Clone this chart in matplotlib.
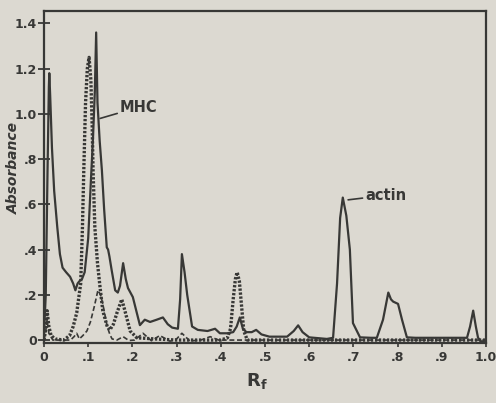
import matplotlib
matplotlib.use("Agg")
import matplotlib.pyplot as plt

# ---- data (Rf, absorbance) ----
solid_rf = [0.000, 0.004, 0.008, 0.011, 0.012, 0.014, 0.018, 0.023, 0.030, 0.036, 0.042, 0.050,
            0.059, 0.066, 0.071, 0.076, 0.080, 0.086, 0.092, 0.100, 0.106, 0.111, 0.115, 0.118,
            0.121, 0.126, 0.131, 0.136, 0.142, 0.145, 0.148, 0.153, 0.161, 0.167, 0.172, 0.179,
            0.185, 0.190, 0.201, 0.210, 0.217, 0.228, 0.240, 0.255, 0.269, 0.280, 0.290, 0.303,
            0.308, 0.312, 0.318, 0.324, 0.335, 0.348, 0.370, 0.387, 0.398, 0.415, 0.428, 0.436,
            0.443, 0.450, 0.458, 0.470, 0.480, 0.492, 0.510, 0.550, 0.565, 0.575, 0.585, 0.600,
            0.640, 0.654, 0.663, 0.670, 0.676, 0.684, 0.692, 0.699, 0.715, 0.740, 0.753, 0.767,
            0.779, 0.785, 0.790, 0.801, 0.810, 0.821, 0.840, 0.900, 0.957, 0.964, 0.971, 0.977,
            0.982, 0.990, 1.000]
solid_a = [0.03, 0.20, 0.75, 1.12, 1.18, 1.08, 0.85, 0.66, 0.50, 0.38, 0.32, 0.30,
           0.28, 0.25, 0.22, 0.25, 0.26, 0.27, 0.30, 0.45, 0.70, 0.90, 1.10, 1.36,
           1.05, 0.88, 0.75, 0.58, 0.41, 0.40, 0.37, 0.31, 0.22, 0.21, 0.24, 0.34,
           0.27, 0.23, 0.19, 0.12, 0.066, 0.09, 0.08, 0.09, 0.10, 0.07, 0.055, 0.05,
           0.18, 0.38, 0.30, 0.20, 0.06, 0.045, 0.04, 0.05, 0.03, 0.03, 0.035, 0.06,
           0.10, 0.05, 0.035, 0.035, 0.045, 0.025, 0.015, 0.015, 0.04, 0.065, 0.035, 0.012,
           0.005, 0.01, 0.25, 0.54, 0.63, 0.55, 0.40, 0.075, 0.012, 0.01, 0.01, 0.09,
           0.21, 0.18, 0.17, 0.16, 0.09, 0.012, 0.01, 0.01, 0.01, 0.06, 0.13, 0.06,
           0.01, -0.008, 0.0]

dot_rf = [0.000, 0.004, 0.007, 0.011, 0.016, 0.025, 0.045, 0.058, 0.066, 0.074, 0.083, 0.087,
          0.090, 0.094, 0.098, 0.102, 0.106, 0.109, 0.111, 0.115, 0.121, 0.127, 0.133, 0.143,
          0.149, 0.157, 0.165, 0.176, 0.183, 0.195, 0.210, 0.250, 0.300, 0.350, 0.400, 0.415,
          0.422, 0.428, 0.433, 0.437, 0.442, 0.447, 0.452, 0.460, 0.500, 0.600, 0.700, 0.800,
          0.900, 0.960, 0.985, 1.000]
dot_a = [0.0, 0.05, 0.13, 0.06, 0.02, 0.005, 0.0, 0.02, 0.06, 0.12, 0.25, 0.50,
         0.75, 1.05, 1.20, 1.25, 1.15, 0.95, 0.75, 0.50, 0.34, 0.23, 0.13, 0.06,
         0.045, 0.07, 0.12, 0.18, 0.13, 0.04, 0.01, 0.005, 0.0, 0.0, 0.0, 0.01,
         0.05, 0.18, 0.27, 0.30, 0.26, 0.15, 0.04, 0.0, 0.0, 0.0, 0.0, 0.0,
         0.0, 0.0, 0.0, 0.0]

dash_rf = [0.000, 0.004, 0.007, 0.011, 0.020, 0.040, 0.060, 0.068, 0.074, 0.080, 0.088, 0.097,
           0.105, 0.114, 0.122, 0.128, 0.133, 0.138, 0.143, 0.149, 0.154, 0.165, 0.179, 0.192,
           0.205, 0.224, 0.243, 0.262, 0.285, 0.300, 0.312, 0.330, 0.355, 0.376, 0.395, 0.450,
           0.600, 0.800, 1.000]
dash_a = [0.0, 0.04, 0.09, 0.03, 0.0, 0.0, 0.0, 0.015, 0.03, 0.005, 0.02, 0.04,
          0.08, 0.15, 0.22, 0.20, 0.16, 0.11, 0.06, 0.025, 0.005, 0.0, 0.015, -0.002,
          0.0, 0.03, -0.003, 0.02, -0.005, 0.005, 0.03, -0.004, 0.0, 0.015, 0.0, 0.0,
          0.0, 0.0, 0.0]

x_ticks = [0, 0.1, 0.2, 0.3, 0.4, 0.5, 0.6, 0.7, 0.8, 0.9, 1.0]
x_labels = ["0", ".1", ".2", ".3", ".4", ".5", ".6", ".7", ".8", ".9", "1.0"]
y_ticks = [0, 0.2, 0.4, 0.6, 0.8, 1.0, 1.2, 1.4]
y_labels = ["0", ".2", ".4", ".6", ".8", "1.0", "1.2", "1.4"]

# ---- styling ----
paper = "#dcd9d1"
ink = "#383836"

fig = plt.figure(figsize=(4.96, 4.03), dpi=100, facecolor=paper)
ax = fig.add_axes([44 / 496, 1 - 343 / 403, 442 / 496, (343 - 11) / 403])
ax.set_facecolor(paper)

ax.plot(dash_rf, dash_a, color=ink, lw=1.2, linestyle=(0, (3, 1.6)))
ax.plot(dot_rf, dot_a, color=ink, lw=2.4, linestyle=(0, (0.7, 0.5)))
ax.plot(solid_rf, solid_a, color=ink, lw=1.6, solid_joinstyle="round")

ax.set_xlim(0, 1.0)
ax.set_ylim(-0.013, 1.455)

ax.set_xticks(x_ticks)
ax.set_xticklabels(x_labels)
ax.set_yticks(y_ticks)
ax.set_yticklabels(y_labels)
ax.tick_params(axis="y", direction="inout", length=8, width=1.3, colors=ink,
               labelsize=9, pad=1)
ax.tick_params(axis="x", direction="out", length=3, width=1.2, colors=ink,
               labelsize=9, pad=3)
for lab in ax.get_xticklabels() + ax.get_yticklabels():
    lab.set_fontweight("bold")
for s in ax.spines.values():
    s.set_color(ink)
    s.set_linewidth(1.6)

# annotations
ax.annotate("MHC", xy=(0.127, 0.98), xytext=(0.172, 1.03),
            fontsize=10.5, fontweight="bold", color=ink, va="center", ha="left",
            arrowprops=dict(arrowstyle="-", color=ink, lw=1.2, shrinkA=0, shrinkB=0))
ax.annotate("actin", xy=(0.688, 0.62), xytext=(0.727, 0.64),
            fontsize=10.5, fontweight="bold", color=ink, va="center", ha="left",
            arrowprops=dict(arrowstyle="-", color=ink, lw=1.2, shrinkA=0, shrinkB=0))

fig.text(14 / 496, 1 - 168 / 403, "Absorbance", rotation=90, fontsize=10,
         fontweight="bold", fontstyle="italic", color=ink, ha="center", va="center")
fig.text(257 / 496, 1 - 381 / 403, r"R$_\mathbf{f}$", fontsize=13, fontweight="bold",
         color=ink, ha="center", va="center")

fig.savefig("out.png", dpi=100, facecolor=paper)
